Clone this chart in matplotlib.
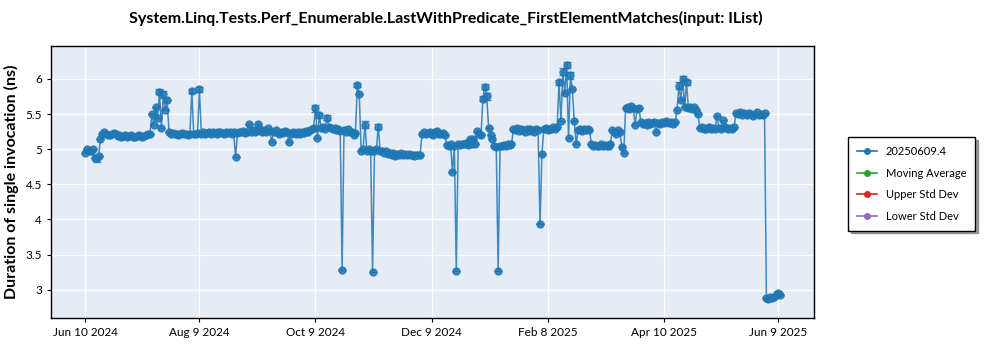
import datetime as dt

import matplotlib
matplotlib.use("Agg")
import matplotlib.pyplot as plt
import matplotlib.dates as mdates
from matplotlib.lines import Line2D
import numpy as np

# one measurement per day, starting on the first run date
start_date = dt.date(2024, 6, 10)
durations_ns = [
    4.95, 5.0, 4.97, 4.98, 5.0, 4.88, 4.87, 4.9, 5.15, 5.22,
    5.24, 5.21, 5.2, 5.2, 5.22, 5.23, 5.21, 5.19, 5.2, 5.18,
    5.19, 5.2, 5.18, 5.19, 5.2, 5.18, 5.18, 5.19, 5.2, 5.19,
    5.18, 5.19, 5.2, 5.21, 5.22, 5.5, 5.35, 5.6, 5.45, 5.82,
    5.3, 5.78, 5.55, 5.7, 5.25, 5.22, 5.23, 5.21, 5.22, 5.2,
    5.22, 5.23, 5.21, 5.22, 5.2, 5.22, 5.83, 5.22, 5.21, 5.23,
    5.85, 5.22, 5.24, 5.22, 5.23, 5.25, 5.22, 5.24, 5.23, 5.22,
    5.24, 5.25, 5.23, 5.22, 5.24, 5.23, 5.25, 5.22, 5.24, 4.89,
    5.23, 5.25, 5.24, 5.26, 5.23, 5.25, 5.36, 5.24, 5.27, 5.25,
    5.26, 5.36, 5.28, 5.24, 5.27, 5.25, 5.3, 5.26, 5.1, 5.25,
    5.27, 5.24, 5.22, 5.25, 5.23, 5.26, 5.24, 5.1, 5.22, 5.24,
    5.23, 5.21, 5.24, 5.22, 5.25, 5.23, 5.26, 5.24, 5.27, 5.28,
    5.3, 5.58, 5.16, 5.48, 5.3, 5.32, 5.29, 5.45, 5.31, 5.3,
    5.28, 5.3, 5.27, 5.29, 5.26, 3.28, 5.27, 5.25, 5.28, 5.24,
    5.25, 5.2, 5.23, 5.91, 5.78, 4.98, 5.0, 5.35, 4.97, 5.0,
    4.98, 3.25, 4.97, 5.0, 5.32, 4.97, 4.98, 4.95, 4.97, 4.93,
    4.95, 4.92, 4.94, 4.9, 4.93, 4.92, 4.94, 4.91, 4.93, 4.92,
    4.93, 4.91, 4.92, 4.9, 4.92, 4.91, 4.92, 5.22, 5.24, 5.21,
    5.23, 5.25, 5.22, 5.2, 5.24, 5.26, 5.22, 5.21, 5.23, 5.2,
    5.06, 5.04, 5.07, 4.67, 5.05, 3.27, 5.08, 5.06, 5.08, 5.07,
    5.09, 5.06, 5.14, 5.08, 5.15, 5.07, 5.26, 5.22, 5.2, 5.72,
    5.89, 5.75, 5.3, 5.2, 5.15, 5.05, 5.03, 3.27, 5.05, 5.04,
    5.06, 5.05, 5.08, 5.06, 5.07, 5.28, 5.27, 5.3, 5.26, 5.28,
    5.27, 5.25, 5.28, 5.26, 5.29, 5.27, 5.25, 5.28, 5.27, 3.93,
    4.93, 5.28, 5.3, 5.27, 5.29, 5.28, 5.31, 5.29, 5.32, 5.95,
    5.4, 6.1, 5.8, 6.2, 5.16, 6.05, 5.85, 5.4, 5.07, 5.27,
    5.28, 5.26, 5.28, 5.27, 5.29, 5.27, 5.07, 5.05, 5.06, 5.04,
    5.05, 5.07, 5.05, 5.06, 5.04, 5.05, 5.08, 5.27, 5.25, 5.22,
    5.27, 5.24, 5.03, 4.94, 5.58, 5.6, 5.57, 5.62, 5.58, 5.34,
    5.57, 5.59, 5.38, 5.36, 5.37, 5.35, 5.38, 5.36, 5.37, 5.39,
    5.24, 5.37, 5.36, 5.38, 5.37, 5.4, 5.38, 5.37, 5.39, 5.36,
    5.38, 5.55, 5.9, 5.7, 6.0, 5.6, 5.95, 5.58, 5.6, 5.57,
    5.6, 5.56, 5.5, 5.3, 5.32, 5.29, 5.28, 5.3, 5.31, 5.29,
    5.3, 5.28, 5.47, 5.3, 5.29, 5.41, 5.31, 5.3, 5.28, 5.3,
    5.29, 5.31, 5.52, 5.5, 5.53, 5.49, 5.51, 5.5, 5.48, 5.52,
    5.5, 5.47, 5.5, 5.53, 5.49, 5.5, 5.48, 5.52, 2.88, 2.87,
    2.89, 2.88, 2.9, 2.92, 2.95, 2.93,
]

# runs with a noticeable spread: day index -> std dev (ns)
spread_days = [6, 39, 41, 56, 60, 121, 123, 127, 143, 147, 154,
               209, 210, 211, 249, 251, 253, 255, 312, 314, 316, 364]
spread_ns = [0.05, 0.04, 0.05, 0.03, 0.03, 0.05, 0.04, 0.04, 0.03, 0.05, 0.04,
             0.04, 0.04, 0.05, 0.04, 0.05, 0.04, 0.05, 0.05, 0.04, 0.04, 0.03]

tick_dates = [dt.date(2024, 6, 10), dt.date(2024, 8, 9), dt.date(2024, 10, 9),
              dt.date(2024, 12, 9), dt.date(2025, 2, 8), dt.date(2025, 4, 10),
              dt.date(2025, 6, 9)]
tick_labels = ["Jun 10 2024", "Aug 9 2024", "Oct 9 2024", "Dec 9 2024",
               "Feb 8 2025", "Apr 10 2025", "Jun 9 2025"]
y_ticks = [3, 3.5, 4, 4.5, 5, 5.5, 6]
y_tick_labels = ["3", "3.5", "4", "4.5", "5", "5.5", "6"]

series_names = ["20250609.4", "Moving Average", "Upper Std Dev", "Lower Std Dev"]
series_colors = ["#1f77b4", "#2ca02c", "#d62728", "#9467bd"]

plt.rcParams["font.family"] = ["Lato", "DejaVu Sans"]

dates = [start_date + dt.timedelta(days=i) for i in range(len(durations_ns))]
yerr = np.zeros(len(durations_ns))
for d, s in zip(spread_days, spread_ns):
    yerr[d] = s

fig = plt.figure(figsize=(10, 3.5), dpi=100)
ax = fig.add_axes([0.051, 0.092, 0.763, 0.777])
ax.set_facecolor("#E5ECF6")
ax.grid(True, color="white", linewidth=1.0)
ax.set_axisbelow(True)

ax.errorbar(dates, durations_ns, yerr=yerr, color=series_colors[0], marker="o",
            markersize=5, linewidth=1.1, alpha=0.85, capsize=3,
            elinewidth=1.0)

ax.set_xlim(dt.date(2024, 5, 23), dt.date(2025, 6, 28))
ax.set_ylim(2.6, 6.47)
ax.set_xticks([mdates.date2num(d) for d in tick_dates])
ax.set_xticklabels(tick_labels, fontsize=8.5)
ax.set_yticks(y_ticks)
ax.set_yticklabels(y_tick_labels, fontsize=8.5)
ax.tick_params(length=3, width=0.8)
for sp in ax.spines.values():
    sp.set_color("black")
    sp.set_linewidth(1.0)

ax.set_ylabel("Duration of single invocation (ns)", fontsize=11.5,
              fontweight="bold", labelpad=5)
fig.suptitle("System.Linq.Tests.Perf_Enumerable.LastWithPredicate_FirstElementMatches(input: IList)",
             x=0.446, y=0.97, fontsize=11.5, fontweight="bold")

# legend lists the benchmark run plus its derived series
handles = [Line2D([], [], color=c, marker="o", markersize=4, linewidth=1.2)
           for c in series_colors]
leg = fig.legend(handles, series_names, loc="upper left",
                 bbox_to_anchor=(0.848, 0.608), borderaxespad=0.0,
                 fontsize=8, frameon=True, fancybox=False, shadow=True,
                 edgecolor="black", handlelength=1.8, borderpad=0.8,
                 labelspacing=0.95)
leg.get_frame().set_linewidth(1.0)

fig.savefig("out.png", dpi=100)
